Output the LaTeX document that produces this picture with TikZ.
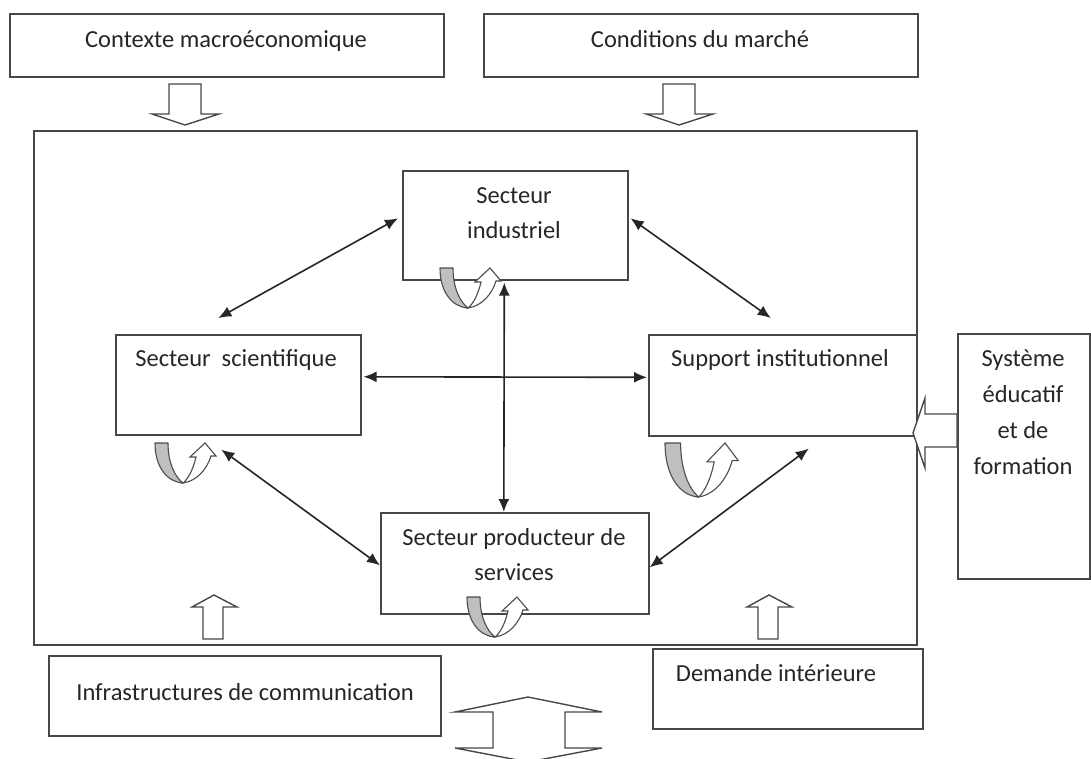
\documentclass[tikz,border=0pt]{standalone}
\usepackage{fontspec}
\setmainfont{Carlito}
\usetikzlibrary{calc,arrows.meta}

\tikzset{
  % U-turn feedback arrow: grey band going down, white arrow coming back up
  uturn/.pic={
    \path[draw=black!70, line width=1.1pt, fill=black!25, line join=round]
      (0,0) -- (13,0) .. controls (13,20) and (20,34) .. (28,40)
      .. controls (12,39) and (0,24) .. (0,0) -- cycle;
    \path[draw=black!70, line width=1.1pt, fill=white, line join=miter]
      (28,40) .. controls (42,38) and (52,26) .. (56,13) -- (61,13) -- (50,0)
      -- (35,14) -- (41,14) .. controls (38,27) and (33,36) .. (28,40) -- cycle;
  }
}

\begin{document}
\begin{tikzpicture}[x=1pt,y=-1pt,
  box/.style={draw=black!72, line width=1.6pt, fill=white, inner sep=0pt,
    anchor=north west},
  lbl/.style={font=\fontsize{24.5}{30}\selectfont, text=black!85, inner sep=0pt,
    anchor=base},
  conn/.style={draw=black!85, line width=1.6pt,
    {Latex[length=13pt,width=11pt]}-{Latex[length=13pt,width=11pt]}},
  hollow/.style={draw=black!72, line width=1.4pt, fill=white, line join=miter},
]
\useasboundingbox (0,0) rectangle (1091,758);

% outer frame of the innovation system
\node[box, minimum width=883, minimum height=514] (frame) at (33,130) {};

% environment boxes
\node[box, minimum width=434, minimum height=63] (ctx) at (9,13) {};
\node[box, minimum width=434, minimum height=63] (cond) at (483,13) {};
\node[box, minimum width=392, minimum height=80] (infra) at (48,655) {};
\node[box, minimum width=270, minimum height=80] (dem) at (652,648) {};
\node[box, minimum width=132, minimum height=245] (sys) at (957,333) {};

% inner sectors
\node[box, minimum width=225, minimum height=109] (ind) at (402,170) {};
\node[box, minimum width=245, minimum height=100] (sci) at (115,334) {};
\node[box, minimum width=268, minimum height=101] (sup) at (648,334) {};
\node[box, minimum width=268, minimum height=101] (prod) at (380,512) {};

% labels
\node[lbl] (ctx-t) at (226,47) {Contexte macroéconomique};
\node[lbl] (cond-t) at (700,47) {Conditions du marché};
\node[lbl] (ind-t1) at (514,203) {Secteur};
\node[lbl] (ind-t2) at (514,238) {industriel};
\node[lbl] (sci-t) at (236,366) {Secteur\ \ scientifique};
\node[lbl] (sup-t) at (780,366) {Support institutionnel};
\node[lbl] (sys-t1) at (1023,366) {Système};
\node[lbl] (sys-t2) at (1023,402) {éducatif};
\node[lbl] (sys-t3) at (1023,438) {et de};
\node[lbl] (sys-t4) at (1023,474) {formation};
\node[lbl] (prod-t1) at (514,545) {Secteur producteur de};
\node[lbl] (prod-t2) at (514,580) {services};
\node[lbl] (infra-t) at (245,700) {Infrastructures de communication};
\node[lbl] (dem-t) at (776,681) {Demande intérieure};

% links between sectors
\draw[conn] ($(ind.west)+(-4,-7)$) -- ($(sci.north)+(-20,-16)$);
\draw[conn] ($(ind.east)+(2,-7)$) -- ($(sup.north)+(-12,-16)$);
\draw[conn] ($(sci.east)+(2,-8)$) -- ($(sup.west)+(-1,-8)$);
\draw[conn] ($(ind.south)+(-11,2)$) -- ($(prod.north)+(-11,0)$);
\draw[conn] ($(sci.south)+(-17,14)$) -- ($(prod.west)+(0,2)$);
\draw[conn] ($(sup.south)+(26,12)$) -- ($(prod.east)+(0,4)$);

% feedback loops inside each sector
\pic at (440,268) {uturn};
\pic at (155,443) {uturn};
\pic[xscale=1.2, yscale=1.35] at (665,443) {uturn};
\pic at (467,597) {uturn};

% block arrows from the environment
\path[hollow] (169,84) -- (201,84) -- (201,114) -- (219,114) -- (185,125)
  -- (152,114) -- (169,114) -- cycle;
\path[hollow] (663,84) -- (695,84) -- (695,114) -- (713,114) -- (679,125)
  -- (646,114) -- (663,114) -- cycle;
\path[hollow] (203,639) -- (203,607) -- (192,607) -- (214,595) -- (237,607)
  -- (223,607) -- (223,639) -- cycle;
\path[hollow] (758,639) -- (758,607) -- (747,607) -- (769,595) -- (792,607)
  -- (778,607) -- (778,639) -- cycle;
\path[hollow] (957,414) -- (925,414) -- (925,398) -- (913,433) -- (925,468)
  -- (925,447) -- (957,447) -- cycle;
\path[hollow] (493,748) -- (493,712) -- (455,712) -- (528,697) -- (602,712)
  -- (565,712) -- (565,748) -- (602,748) -- (528,762) -- (455,748) -- cycle;
\end{tikzpicture}
\end{document}
